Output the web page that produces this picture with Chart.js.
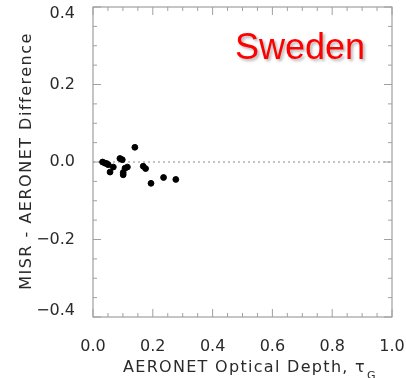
<!DOCTYPE html>
<html lang="en">
  <head>
    <meta charset="UTF-8" />
    <title>Sweden MISR - AERONET</title>
    <script src="https://cdn.jsdelivr.net/npm/chart.js@4.5.0/dist/chart.umd.min.js"></script>
    <style>
      html, body { margin: 0; padding: 0; background: #fff; }
      #wrap { width: 406px; height: 378px; }
    </style>
  </head>
  <body>
    <div id="wrap"><canvas id="myChart"></canvas></div>

    <script>
      // values
      const opticalDepth = [0.032, 0.040, 0.046, 0.051, 0.057, 0.068, 0.090, 0.098, 0.101, 0.107,
                            0.115, 0.101, 0.140, 0.168, 0.176, 0.194, 0.236, 0.277];
      const difference = [0.000, -0.003, -0.004, -0.007, -0.026, -0.013, 0.009, 0.006, -0.027, -0.016,
                          -0.013, -0.033, 0.038, -0.011, -0.017, -0.055, -0.040, -0.045];
      const xTicks = [0.0, 0.2, 0.4, 0.6, 0.8, 1.0];
      const yTicks = [-0.4, -0.2, 0.0, 0.2, 0.4];
      const siteName = "Sweden";
      const xTitle = "AERONET Optical Depth, τ";
      const xTitleSub = "G";
      const yTitle = "MISR - AERONET Difference";

      const fmt = (v) => (v < 0 ? "\u2212" : "") + Math.abs(v).toFixed(1);
      const textFont = "DejaVu Sans";

      // IDL style box with inward ticks, zero line and labels
      const framePlugin = {
        id: "frame",
        beforeDatasetsDraw(chart) {
          const { ctx, chartArea: a, scales } = chart;
          ctx.save();
          // dotted zero line
          const y0 = scales.y.getPixelForValue(0);
          ctx.strokeStyle = "#8a8a8a";
          ctx.lineWidth = 1;
          ctx.setLineDash([2, 3]);
          ctx.beginPath();
          ctx.moveTo(a.left, y0);
          ctx.lineTo(a.right, y0);
          ctx.stroke();
          ctx.setLineDash([]);

          ctx.strokeStyle = "#8c8c8c";
          ctx.strokeRect(a.left, a.top, a.right - a.left, a.bottom - a.top);

          ctx.strokeStyle = "#a0a0a0";
          ctx.beginPath();
          for (let i = 0; i <= 20; i++) {
            const v = i * 0.05;
            const len = i % 4 === 0 ? 8 : 4;
            const px = scales.x.getPixelForValue(v);
            ctx.moveTo(px, a.bottom);
            ctx.lineTo(px, a.bottom - len);
            ctx.moveTo(px, a.top);
            ctx.lineTo(px, a.top + len);
          }
          for (let i = 0; i <= 16; i++) {
            const v = -0.4 + i * 0.05;
            const len = i % 4 === 0 ? 8 : 4;
            const py = scales.y.getPixelForValue(v);
            ctx.moveTo(a.left, py);
            ctx.lineTo(a.left + len, py);
            ctx.moveTo(a.right, py);
            ctx.lineTo(a.right - len, py);
          }
          ctx.stroke();
          ctx.restore();
        },
        afterDraw(chart) {
          const { ctx, chartArea: a } = chart;
          ctx.save();
          ctx.fillStyle = "#2a2a2a";
          ctx.letterSpacing = "1.3px";
          ctx.font = "16px '" + textFont + "'";
          ctx.textBaseline = "alphabetic";

          // x title with subscript
          const w = ctx.measureText(xTitle).width;
          const cx = (a.left + a.right) / 2 + 2;
          ctx.textAlign = "left";
          ctx.fillText(xTitle, cx - w / 2, 372);
          ctx.font = "11px '" + textFont + "'";
          ctx.fillText(xTitleSub, cx + w / 2 + 1, 379);

          // y title
          ctx.font = "16px '" + textFont + "'";
          ctx.letterSpacing = "1.5px";
          ctx.translate(31, 161);
          ctx.rotate(-Math.PI / 2);
          ctx.textAlign = "center";
          ctx.fillText(yTitle, 0, 0);
          ctx.restore();

          // site name
          ctx.save();
          ctx.font = "36px 'Liberation Sans'";
          ctx.fillStyle = "#f00";
          ctx.shadowColor = "rgba(0,0,0,0.3)";
          ctx.shadowBlur = 3;
          ctx.shadowOffsetX = 2;
          ctx.shadowOffsetY = 2;
          ctx.textAlign = "left";
          ctx.fillText(siteName, 235, 59);
          ctx.restore();
        },
      };

      const points = opticalDepth.map((x, i) => ({ x: x, y: difference[i] }));

      new Chart(document.getElementById("myChart"), {
        type: "scatter",
        data: {
          datasets: [
            {
              data: points,
              backgroundColor: "#000",
              borderColor: "#000",
              pointRadius: 2.9,
              pointHoverRadius: 2.9,
            },
          ],
        },
        options: {
          responsive: true,
          maintainAspectRatio: false,
          animation: false,
          events: [],
          layout: { padding: { top: 7, right: 14, left: 0, bottom: 0 } },
          plugins: { legend: { display: false }, tooltip: { enabled: false } },
          scales: {
            x: {
              type: "linear",
              min: 0,
              max: 1,
              afterBuildTicks: (s) => { s.ticks = xTicks.map((v) => ({ value: v })); },
              afterFit: (s) => {
                s.height = 61;
                s.paddingLeft = 0;
                s.paddingRight = 0;
              },
              grid: { display: false },
              border: { display: false },
              ticks: {
                padding: 12,
                color: "#2a2a2a",
                font: { family: textFont, size: 16 },
                maxRotation: 0,
                callback: (v) => fmt(v),
              },
            },
            y: {
              type: "linear",
              min: -0.4,
              max: 0.4,
              afterBuildTicks: (s) => { s.ticks = yTicks.map((v) => ({ value: v })); },
              afterFit: (s) => {
                s.width = 93;
                s.paddingTop = 0;
                s.paddingBottom = 0;
              },
              grid: { display: false },
              border: { display: false },
              ticks: {
                padding: 10,
                color: "#2a2a2a",
                font: { family: textFont, size: 16, lineHeight: 0.8 },
                // end labels sit a little inside the box, as in the original
                callback: (v) => {
                  if (v === 0.4) return ["", fmt(v)];
                  if (v === -0.4) return [fmt(v), ""];
                  return fmt(v);
                },
              },
            },
          },
        },
        plugins: [framePlugin],
      });
    </script>
  </body>
</html>
